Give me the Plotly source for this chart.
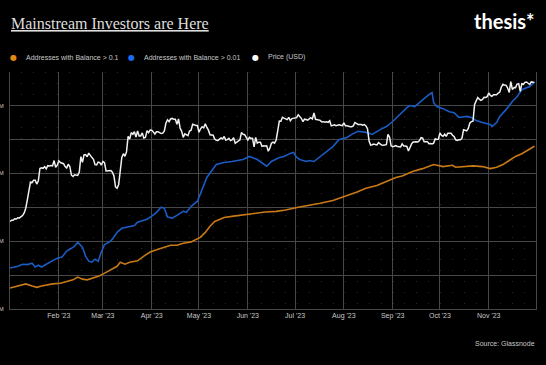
import pandas as pd
import plotly.graph_objects as go

# ---------------- data ----------------
# BTC price (USD thousands), daily, one list per month of 2023
price_jan = [16.6, 16.7, 16.7, 16.85, 16.83, 16.95, 16.94, 17.09, 17.18, 17.44,
             17.94, 18.85, 19.93, 20.95, 20.87, 21.17, 21.16, 20.69, 21.08, 22.68,
             22.78, 22.71, 22.93, 22.64, 23.06, 23.01, 23.08, 23.03, 23.77, 22.84, 23.13]
price_feb = [23.73, 23.49, 23.43, 23.33, 22.94, 22.76, 23.26, 22.96, 21.8, 21.63,
             21.86, 21.79, 21.78, 22.2, 24.33, 23.52, 24.57, 24.63, 24.3, 24.84,
             24.44, 24.19, 23.95, 23.2, 23.16, 23.55, 23.49, 23.15]
price_mar = [23.65, 23.47, 22.36, 22.35, 22.43, 22.41, 22.2, 21.7, 20.36, 20.19,
             20.63, 22.16, 24.2, 24.75, 24.38, 25.05, 27.42, 26.97, 28.04, 27.77,
             28.18, 27.31, 28.33, 27.49, 27.49, 28.0, 27.14, 27.27, 28.35, 28.03, 28.48]
price_apr = [28.45, 28.2, 27.8, 28.17, 28.17, 28.03, 27.91, 27.95, 28.33, 29.65,
             30.24, 29.9, 30.4, 30.49, 30.32, 30.32, 29.45, 30.4, 28.82, 28.25,
             27.27, 27.82, 27.59, 27.52, 28.31, 28.42, 29.47, 29.34, 29.25, 29.23]
price_may = [28.09, 28.68, 29.03, 28.84, 29.53, 28.9, 28.45, 27.69, 27.65, 27.62,
             26.99, 26.8, 26.78, 26.93, 27.19, 27.03, 27.4, 26.83, 26.89, 27.1,
             26.75, 26.85, 27.22, 26.33, 26.48, 26.72, 26.87, 28.08, 27.75, 27.7, 27.22]
price_jun = [26.82, 27.25, 27.08, 27.12, 25.76, 27.24, 26.35, 26.5, 26.48, 25.85,
             25.94, 25.9, 25.92, 25.12, 25.58, 26.33, 26.51, 26.34, 26.84, 28.33,
             30.01, 29.99, 30.7, 30.55, 30.47, 30.27, 30.69, 30.08, 30.45, 30.48]
price_jul = [30.59, 30.62, 31.16, 30.77, 30.51, 29.9, 30.35, 30.29, 30.17, 30.41,
             30.62, 30.39, 31.48, 30.33, 30.3, 30.25, 30.14, 29.86, 29.91, 29.8,
             29.9, 29.79, 30.08, 29.18, 29.23, 29.35, 29.22, 29.31, 29.35, 29.28, 29.23]
price_aug = [29.71, 29.18, 29.18, 29.07, 29.04, 29.04, 29.18, 29.77, 29.58, 29.43,
             29.4, 29.42, 29.28, 29.41, 29.17, 28.7, 26.66, 26.05, 26.1, 26.19,
             26.12, 26.06, 26.43, 26.16, 26.05, 26.01, 26.09, 26.1, 27.73, 27.3, 25.93]
price_sep = [25.8, 25.87, 25.97, 25.83, 25.79, 25.75, 26.24, 25.91, 25.9, 25.84,
             25.16, 25.84, 26.23, 26.53, 26.61, 26.57, 26.53, 26.76, 27.21, 27.13,
             26.57, 26.58, 26.58, 26.25, 26.3, 26.22, 26.35, 27.02, 26.91, 26.97]
price_oct = [27.98, 27.59, 27.43, 27.79, 27.41, 27.95, 27.97, 27.94, 27.6, 27.39,
             26.87, 26.76, 26.86, 26.86, 27.15, 28.52, 28.42, 28.33, 28.72, 29.68,
             29.92, 29.99, 33.09, 33.9, 34.5, 34.16, 33.91, 34.09, 34.54, 34.5, 34.67]
price_nov = [35.44, 34.94, 34.73, 35.08, 35.05, 35.05, 35.42, 35.62, 36.69, 37.31,
             37.13, 37.07, 36.49, 35.55, 37.88, 36.15, 36.6, 36.57, 37.36, 37.45,
             35.76, 37.42, 37.29, 37.72, 37.8, 37.48, 37.25, 37.83, 37.85, 37.72]
price_months = ["2023-01-01", "2023-02-01", "2023-03-01", "2023-04-01", "2023-05-01",
                "2023-06-01", "2023-07-01", "2023-08-01", "2023-09-01", "2023-10-01",
                "2023-11-01"]

# Addresses with balance > 0.01 BTC (millions)
bal001_dates = ["2023-01-01", "2023-01-06", "2023-01-09", "2023-01-12", "2023-01-15",
                "2023-01-17", "2023-01-19", "2023-01-21", "2023-01-24", "2023-01-28",
                "2023-01-31", "2023-02-03", "2023-02-06", "2023-02-09", "2023-02-11",
                "2023-02-13", "2023-02-16", "2023-02-18", "2023-02-20", "2023-02-22",
                "2023-02-24", "2023-02-26", "2023-02-27", "2023-02-28", "2023-03-02",
                "2023-03-04", "2023-03-05", "2023-03-07", "2023-03-10", "2023-03-13",
                "2023-03-17", "2023-03-21", "2023-03-23", "2023-03-29", "2023-04-01",
                "2023-04-04", "2023-04-07", "2023-04-09", "2023-04-11", "2023-04-14",
                "2023-04-17", "2023-04-21", "2023-04-23", "2023-04-26", "2023-04-30",
                "2023-05-01", "2023-05-06", "2023-05-12", "2023-05-17", "2023-05-22",
                "2023-05-29", "2023-06-02", "2023-06-07", "2023-06-13", "2023-06-16",
                "2023-06-21", "2023-06-24", "2023-06-28", "2023-06-30", "2023-07-02",
                "2023-07-04", "2023-07-08", "2023-07-10", "2023-07-13", "2023-07-17",
                "2023-07-21", "2023-07-25", "2023-07-29", "2023-08-03", "2023-08-06",
                "2023-08-10", "2023-08-15", "2023-08-19", "2023-08-24", "2023-08-28",
                "2023-09-01", "2023-09-05", "2023-09-10", "2023-09-12", "2023-09-15",
                "2023-09-18", "2023-09-21", "2023-09-24", "2023-09-26", "2023-09-27",
                "2023-09-29", "2023-10-03", "2023-10-07", "2023-10-10", "2023-10-13",
                "2023-10-18", "2023-10-21", "2023-10-24", "2023-10-28", "2023-11-02",
                "2023-11-03", "2023-11-06", "2023-11-08", "2023-11-12", "2023-11-16",
                "2023-11-19", "2023-11-22", "2023-11-27", "2023-11-30"]
bal001_values = [11.421, 11.426, 11.432, 11.431, 11.435, 11.424, 11.429, 11.424, 11.432, 11.441,
                 11.450, 11.453, 11.471, 11.479, 11.485, 11.497, 11.482, 11.456, 11.441, 11.438,
                 11.447, 11.441, 11.458, 11.468, 11.490, 11.494, 11.497, 11.506, 11.526, 11.538,
                 11.541, 11.546, 11.556, 11.565, 11.574, 11.585, 11.600, 11.597, 11.571, 11.568,
                 11.576, 11.588, 11.585, 11.603, 11.618, 11.629, 11.688, 11.726, 11.732, 11.735,
                 11.741, 11.750, 11.741, 11.721, 11.735, 11.747, 11.750, 11.759, 11.762, 11.747,
                 11.741, 11.735, 11.738, 11.735, 11.750, 11.765, 11.779, 11.800, 11.806, 11.815,
                 11.824, 11.821, 11.815, 11.829, 11.838, 11.853, 11.872, 11.894, 11.900, 11.897,
                 11.909, 11.921, 11.932, 11.938, 11.909, 11.897, 11.891, 11.882, 11.879, 11.865,
                 11.868, 11.865, 11.856, 11.850, 11.844, 11.838, 11.850, 11.868, 11.888, 11.912,
                 11.926, 11.947, 11.956, 11.968]

# Addresses with balance > 0.1 BTC (millions)
bal01_dates = ["2023-01-01", "2023-01-07", "2023-01-11", "2023-01-15", "2023-01-18",
               "2023-01-21", "2023-01-28", "2023-02-02", "2023-02-06", "2023-02-10",
               "2023-02-13", "2023-02-16", "2023-02-19", "2023-02-23", "2023-02-27",
               "2023-03-03", "2023-03-07", "2023-03-10", "2023-03-12", "2023-03-15",
               "2023-03-18", "2023-03-23", "2023-03-27", "2023-03-31", "2023-04-05",
               "2023-04-09", "2023-04-13", "2023-04-17", "2023-04-21", "2023-04-26",
               "2023-04-30", "2023-05-02", "2023-05-05", "2023-05-08", "2023-05-11",
               "2023-05-13", "2023-05-17", "2023-05-23", "2023-06-01", "2023-06-06",
               "2023-06-12", "2023-06-19", "2023-06-25", "2023-07-03", "2023-07-11",
               "2023-07-17", "2023-07-25", "2023-08-02", "2023-08-09", "2023-08-15",
               "2023-08-22", "2023-08-28", "2023-09-03", "2023-09-07", "2023-09-14",
               "2023-09-20", "2023-09-27", "2023-10-03", "2023-10-09", "2023-10-11",
               "2023-10-16", "2023-10-22", "2023-10-28", "2023-11-02", "2023-11-06",
               "2023-11-10", "2023-11-14", "2023-11-18", "2023-11-22", "2023-11-26",
               "2023-11-30"]
bal01_values = [4.331, 4.334, 4.337, 4.334, 4.332, 4.334, 4.337, 4.338, 4.340, 4.343,
                4.347, 4.344, 4.343, 4.346, 4.349, 4.354, 4.359, 4.363, 4.369, 4.366,
                4.369, 4.371, 4.378, 4.384, 4.388, 4.391, 4.394, 4.394, 4.397, 4.399,
                4.404, 4.406, 4.413, 4.422, 4.429, 4.431, 4.435, 4.437, 4.440, 4.441,
                4.443, 4.444, 4.446, 4.450, 4.453, 4.456, 4.460, 4.466, 4.472, 4.478,
                4.482, 4.488, 4.494, 4.496, 4.503, 4.507, 4.513, 4.510, 4.512, 4.509,
                4.510, 4.511, 4.510, 4.507, 4.509, 4.513, 4.519, 4.525, 4.529, 4.535,
                4.540]

series_names = ["Addresses with Balance > 0.1", "Addresses with Balance > 0.01", "Price (USD)"]
month_ticks = ["2023-01-01", "2023-02-01", "2023-03-01", "2023-04-01", "2023-05-01",
               "2023-06-01", "2023-07-01", "2023-08-01", "2023-09-01", "2023-10-01",
               "2023-11-01", "2023-12-01"]
month_labels = ["", "Feb '23", "Mar '23", "Apr '23", "May '23", "Jun '23", "Jul '23",
                "Aug '23", "Sep '23", "Oct '23", "Nov '23", ""]
y_tick_vals = [11.3, 11.5, 11.7, 11.9]
y_tick_text = ["M", "M", "M", "M"]
y_minor_vals = [11.4, 11.6, 11.8]

# ---------------- build ----------------
price_lists = [price_jan, price_feb, price_mar, price_apr, price_may, price_jun,
               price_jul, price_aug, price_sep, price_oct, price_nov]
price_dates, price_values = [], []
for start, vals in zip(price_months, price_lists):
    price_dates += list(pd.date_range(start, periods=len(vals), freq="D"))
    price_values += vals

W, H = 546, 365
ML, MR, MT, MB = 10, 10, 72, 56
PW, PH = W - ML - MR, H - MT - MB


def px(x):
    return (x - ML) / PW


def py(y):
    return (H - MB - y) / PH


ORANGE = "#c97a16"
BLUE = "#1a5cc4"
WHITE = "#f0f0f0"
GRID = "#474747"
TXT = "#c8c8c8"
SANS = "Liberation Sans, Arial, sans-serif"

fig = go.Figure()
fig.add_trace(go.Scatter(x=bal001_dates, y=bal001_values, name=series_names[1], yaxis="y",
                         mode="lines", line=dict(color=BLUE, width=1.6), showlegend=False))
fig.add_trace(go.Scatter(x=bal01_dates, y=bal01_values, name=series_names[0], yaxis="y2",
                         mode="lines", line=dict(color=ORANGE, width=1.6), showlegend=False))
fig.add_trace(go.Scatter(x=price_dates, y=price_values, name=series_names[2], yaxis="y3",
                         mode="lines", line=dict(color=WHITE, width=1.5), showlegend=False))

fig.update_layout(
    width=W, height=H,
    margin=dict(l=ML, r=MR, t=MT, b=MB, autoexpand=False),
    paper_bgcolor="#000000", plot_bgcolor="#000000",
    template="none",
    showlegend=False,
    xaxis=dict(
        type="date", range=["2023-01-01", "2023-12-01"],
        tickmode="array", tickvals=month_ticks, ticktext=month_labels,
        showgrid=True, gridcolor=GRID, gridwidth=1, zeroline=False,
        showline=True, linecolor=GRID, linewidth=1, ticks="",
        tickfont=dict(family=SANS, size=7, color=TXT), automargin=False,
        minor=dict(dtick=7.6 * 86400000, tick0="2023-01-01", showgrid=True,
                   gridcolor="#2a2a2a", griddash="1px,10px", gridwidth=1),
    ),
    yaxis=dict(
        range=[11.3, 11.999], tickmode="array", tickvals=y_tick_vals, ticktext=y_tick_text,
        showgrid=True, gridcolor=GRID, gridwidth=1, zeroline=False,
        showline=True, linecolor=GRID, linewidth=1, mirror=True, ticks="",
        tickfont=dict(family=SANS, size=6, color=TXT), automargin=False,
        ticklabelstandoff=4,
        minor=dict(tickvals=y_minor_vals, showgrid=True, gridcolor=GRID, gridwidth=1),
    ),
    yaxis2=dict(range=[4.30, 4.6495], overlaying="y", visible=False, showgrid=False),
    yaxis3=dict(type="log", range=[0.9953, 1.6032], overlaying="y", visible=False,
                showgrid=False),
)

ann = []
ann.append(dict(text="<u>Mainstream Investors are Here</u>", x=px(9), y=py(13),
                xref="paper", yref="paper", xanchor="left", yanchor="top", showarrow=False,
                font=dict(family="Liberation Serif, serif", size=16, color="#dedede")))
ann.append(dict(text="<b>thesis*</b>", x=px(537), y=py(21), xref="paper", yref="paper",
                xanchor="right", yanchor="middle", showarrow=False,
                font=dict(family="Lato, sans-serif", size=20, color="#ffffff")))
legend_items = [(13, 24, "#e08a14", series_names[0]),
                (131, 142, "#1b6cf0", series_names[1]),
                (255, 266, "#ffffff", series_names[2])]
for dot_x, text_x, col, name in legend_items:
    ann.append(dict(text="●", x=px(dot_x), y=py(57), xref="paper", yref="paper",
                    xanchor="center", yanchor="middle", showarrow=False,
                    font=dict(family="DejaVu Sans", size=8, color=col)))
    ann.append(dict(text=name, x=px(text_x), y=py(57), xref="paper", yref="paper",
                    xanchor="left", yanchor="middle", showarrow=False,
                    font=dict(family=SANS, size=7, color=TXT)))
ann.append(dict(text="Source: Glassnode", x=px(537), y=py(343), xref="paper", yref="paper",
                xanchor="right", yanchor="middle", showarrow=False,
                font=dict(family=SANS, size=7, color=TXT)))
fig.update_layout(annotations=ann)

fig.write_html("out.html", config={"displayModeBar": False},
               post_script="document.body.style.margin='0';document.body.style.background='#000';")
